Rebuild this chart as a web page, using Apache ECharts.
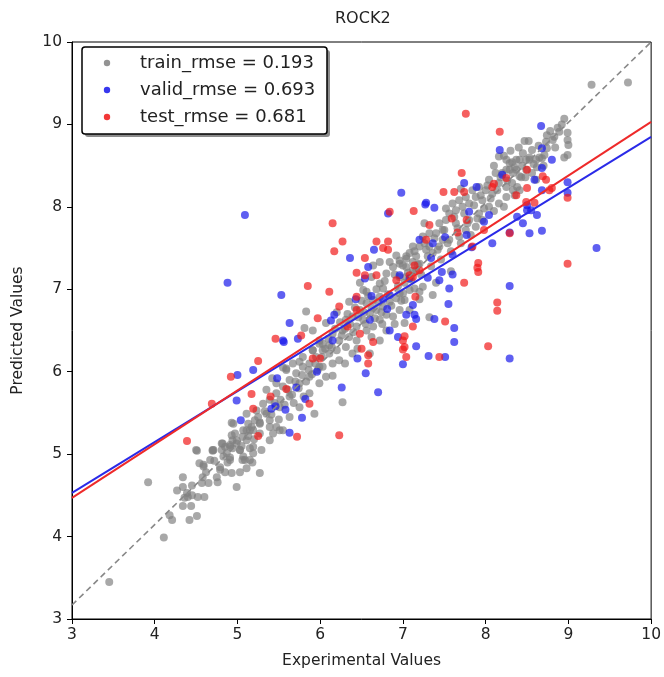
<!DOCTYPE html>
<html>
<head>
<meta charset="utf-8">
<script src="https://cdn.jsdelivr.net/npm/echarts@6/dist/echarts.min.js"></script>
<style>html,body{margin:0;padding:0;background:#fff}#c{width:664px;height:677px}</style>
</head>
<body>
<div id="c"></div>
<script>
var titleText = 'ROCK2';
var xName = 'Experimental Values';
var yName = 'Predicted Values';
var seriesNames = ['train_rmse = 0.193', 'valid_rmse = 0.693', 'test_rmse = 0.681'];
var tickMin = 3, tickMax = 10, tickStep = 1;

var trainPoints = [
[3.45,3.45],[4.11,3.99],[3.92,4.66],[4.18,4.26],[4.21,4.20],[4.42,4.20],[4.51,4.25],[4.34,4.37],[4.44,4.37],[4.27,4.56],[4.34,4.60],[4.39,4.53],[4.40,4.48],[4.36,4.47],[4.45,4.50],[4.52,4.48],[4.60,4.48],[4.34,4.72],[4.57,4.65],[4.65,4.65],[4.76,4.66],[4.59,4.85],[4.51,5.04],[4.70,5.04],[4.81,5.05],[4.85,5.09],[4.87,5.01],[4.91,5.11],[4.94,5.07],[4.99,5.13],[4.79,4.81],[4.85,4.78],[4.93,4.77],[5.03,4.78],[5.11,4.83],[5.18,4.90],[4.99,4.60],[5.27,4.77],[4.93,5.38],[5.15,5.07],[5.09,4.93],[5.17,5.33],[5.11,5.29],[5.21,5.41],[5.27,5.38],
[4.54,4.89],[4.70,5.05],[4.82,5.13],[4.94,5.17],[5.06,5.21],[5.15,5.29],[5.27,5.25],[5.03,5.05],[4.91,4.96],[4.79,4.84],[5.06,4.93],[5.19,5.01],[5.15,4.93],[4.58,4.72],[5.39,5.33],[5.51,5.29],[5.47,5.33],[6.27,5.63],
[4.50,5.05],[4.71,5.05],[4.59,4.87],[4.83,4.97],[4.91,5.09],[4.99,5.17],[5.07,5.29],[5.13,5.37],[4.95,5.37],[5.11,5.49],[5.23,5.53],[5.31,5.61],[5.39,5.66],[5.47,5.74],[5.55,5.82],[5.63,5.90],[5.71,5.98],[5.79,6.06],[5.87,6.10],[5.95,6.18],[6.03,6.26],[6.11,6.32],[5.35,5.78],[5.47,5.86],[5.59,6.02],[5.67,6.10],[5.79,6.18],[5.91,6.26],[5.99,6.34],[5.87,5.94],[5.75,5.86],[5.63,5.70],[5.51,5.57],[5.39,5.41],[5.27,5.37],[5.19,5.29],[5.11,5.17],[5.03,5.05],[4.91,4.93],[5.43,5.25],[5.55,5.29],[5.19,5.09],[5.07,4.97],[5.29,5.05],[5.39,5.17],[5.63,5.45],[5.75,5.57],[5.87,5.74],[5.99,5.86],[6.03,6.06],[6.07,5.94],[5.93,5.49],[4.93,5.23],[4.81,5.13],[4.67,4.93],[5.35,5.49],
[5.83,6.73],[5.81,6.53],[5.59,6.04],[5.75,6.12],[5.91,6.26],[6.03,6.34],[6.15,6.46],[6.27,6.50],[6.23,6.38],[6.11,6.22],[6.31,6.63],[6.39,6.67],[6.48,6.75],[6.56,6.83],[6.64,6.87],[6.72,6.91],[6.44,6.55],[6.35,6.42],[6.31,6.30],[6.52,6.63],[6.60,6.71],[6.68,6.75],[6.76,6.79],[6.84,6.85],[6.92,6.89],[7.00,6.95],[7.08,6.99],[6.72,6.63],[6.64,6.55],[6.56,6.50],[6.44,6.38],[6.39,6.22],[6.23,6.14],[6.15,6.10],[5.99,6.06],[6.72,7.07],[6.76,7.01],[6.80,7.19],[6.88,7.27],[6.96,7.31],[7.04,7.27],[7.12,7.33],[7.16,7.23],[7.04,7.37],[6.92,7.41],[6.84,7.33],[6.72,7.33],[6.64,7.29],[6.52,6.99],[6.80,6.69],[6.60,6.22],[6.72,6.38],[6.80,6.50],[6.88,6.67],[6.96,6.75],[6.56,6.97],[5.99,6.38],[6.07,6.59],[5.91,6.50],
[8.16,8.61],[8.29,8.53],[8.37,8.57],[8.45,8.65],[8.53,8.57],[8.49,8.45],[8.41,8.37],[8.33,8.41],[8.25,8.45],[8.12,8.41],[8.04,8.33],[8.16,8.29],[8.08,8.16],[8.00,8.20],[7.92,8.24],[7.96,8.08],[7.88,8.12],[7.80,8.04],[7.84,8.20],[7.76,8.12],[7.72,8.00],[7.64,7.96],[7.56,7.92],[7.60,8.04],[7.68,8.08],[7.52,7.84],[7.44,7.80],[7.48,7.72],[7.40,7.68],[7.32,7.68],[7.24,7.64],[7.20,7.52],[7.12,7.52],[7.08,7.44],[7.04,7.40],[6.96,7.35],[7.00,7.29],[7.16,7.40],[7.28,7.48],[7.44,7.52],[7.36,7.44],[7.56,7.60],[7.68,7.64],[7.76,7.72],[7.88,7.76],[7.96,7.84],[8.04,8.00],[8.16,8.04],[8.25,8.12],[8.33,8.20],[8.41,8.20],[7.92,7.92],[7.80,7.84],[7.64,7.80],[7.48,7.60],[7.32,7.52],[7.20,7.31],[7.12,7.23],[7.04,7.15],[6.96,7.15],
[7.20,6.97],[7.24,7.03],[7.14,7.01],[7.36,6.93],[7.32,6.66],[7.02,6.59],[7.08,6.75],[7.02,6.87],[6.96,6.95],
[8.95,9.07],[8.87,8.96],[8.89,8.91],[8.83,8.85],[8.81,8.81],[8.99,8.90],[8.99,8.81],[9.00,8.75],[8.99,8.63],[8.95,8.60],[8.74,8.87],[8.73,8.79],[8.74,8.71],[8.71,8.63],[8.68,8.59],[8.47,8.80],[8.56,8.69],[8.53,8.60],[8.61,8.57],[8.49,8.57],[8.41,8.57],[8.32,8.54],[8.25,8.57],[8.37,8.45],[8.29,8.45],[8.20,8.41],[8.43,8.36],[8.38,8.24],[8.32,8.29],[8.25,8.24],[8.35,8.14],[8.65,8.60],[8.62,8.48],[8.56,8.41],[8.61,8.33],[9.28,9.48],[9.72,9.51],
[5.25,5.45],[5.33,5.52],[5.41,5.48],[5.45,5.62],[5.52,5.66],[5.57,5.60],[5.61,5.78],[5.66,5.72],[5.70,5.88],[5.74,5.80],[5.78,5.96],[5.83,5.88],[5.86,6.02],[5.90,5.97],[5.94,6.10],[5.97,6.02],[5.42,5.92],[5.55,6.05],[5.68,5.62],[5.50,5.42],[5.80,5.70],
[6.02,6.18],[6.06,6.28],[6.10,6.40],[6.14,6.30],[6.18,6.52],[6.20,6.26],[6.24,6.60],[6.26,6.44],[6.30,6.52],[6.33,6.70],[6.36,6.58],[6.40,6.48],[6.42,6.78],[6.46,6.66],[6.50,6.86],[6.53,6.72],[6.55,6.58],[6.58,6.92],[6.62,6.78],[6.66,6.65],[6.68,7.00],[6.70,6.84],[6.74,6.72],[6.78,7.10],[6.82,6.94],[6.86,6.80],[6.90,7.18],[6.94,7.04],[6.98,6.86],[6.20,6.72],[6.35,6.85],[6.48,7.08],[6.62,7.15],[6.15,5.95],[6.30,6.10],[6.45,6.28],[6.62,6.42],[6.75,6.58],[6.90,6.58],
[7.02,7.08],[7.06,7.20],[7.10,7.12],[7.14,7.46],[7.18,7.30],[7.22,7.18],[7.26,7.56],[7.30,7.40],[7.34,7.28],[7.38,7.62],[7.42,7.48],[7.46,7.36],[7.50,7.72],[7.54,7.56],[7.58,7.46],[7.62,7.88],[7.66,7.74],[7.70,7.56],[7.74,7.92],[7.78,7.80],[7.82,7.66],[7.86,8.02],[7.90,7.86],[7.94,8.14],[7.98,7.98],[7.26,7.80],[7.52,7.98],[7.70,8.22],[7.20,6.88],[7.40,7.08],[7.58,7.22],
[8.02,8.26],[8.06,8.10],[8.10,8.50],[8.14,8.20],[8.18,8.36],[8.22,8.62],[8.26,8.32],[8.30,8.68],[8.35,8.48],[8.40,8.72],[8.44,8.50],[8.48,8.36],[8.52,8.80],[8.58,8.52],[8.64,8.74],[8.70,8.50],[8.78,8.92],[8.84,8.72],[8.92,9.00],[8.10,7.95],[8.22,8.00],
[4.62,4.78],[4.72,4.92],[4.88,4.90],[4.97,5.25],[5.05,5.10],[5.13,5.22],[5.20,5.18],[4.75,4.72],[4.45,4.62]
];

var validPoints = [
[8.67,8.98],[8.68,8.71],[8.80,8.57],[8.68,8.47],[8.59,8.33],[8.99,8.30],[8.99,8.17],[8.68,8.20],[8.20,8.39],[8.17,8.69],[8.50,8.02],[9.34,7.50],
[8.29,7.04],[7.56,7.01],[7.60,7.18],[7.47,7.21],[7.44,7.11],[7.55,6.82],[7.04,6.69],[7.14,6.69],[7.16,6.64],[7.38,6.64],[7.62,6.53],[7.62,6.36],[7.16,6.31],[7.31,6.19],[7.51,6.18],[8.29,6.16],[7.00,6.09],
[7.74,8.29],[7.89,8.24],[7.28,8.05],[7.38,7.99],[7.80,7.94],[8.04,7.90],[7.20,7.60],[7.36,7.56],[7.51,7.63],[7.77,7.66],[8.08,7.56],[8.38,7.88],[8.50,7.96],[8.62,7.90],[8.29,7.69],[7.83,7.51],[7.60,7.42],[7.34,7.38],[6.98,8.17],
[6.82,7.92],[7.27,8.03],[7.98,7.82],[8.53,7.68],[8.68,7.71],[8.45,7.80],[8.55,7.96],[6.65,7.48],[6.36,7.38],[6.58,7.27],[6.96,7.17],[7.30,7.14],[6.43,6.88],[6.76,6.88],[6.84,6.50],[6.60,6.63],[6.17,6.69],[6.15,6.38],
[6.54,7.13],[7.08,7.13],[6.62,6.92],[6.84,6.93],[6.81,6.76],[7.12,6.81],[6.13,6.62],[5.63,6.59],[5.55,6.38],[5.73,6.40],[6.94,6.42],[6.45,6.16],[5.53,6.93],
[5.56,6.36],[5.19,6.02],[5.00,5.96],[5.48,5.92],[5.71,5.81],[4.99,5.65],[5.41,5.55],[5.46,5.58],[5.58,5.54],[5.82,5.67],[5.78,5.44],[5.04,5.41],[5.63,5.26],[5.96,6.00],
[4.88,7.08],[5.09,7.90],[6.70,5.75],[6.26,5.81],[6.55,5.98]
];

var testPoints = [
[8.17,8.91],[8.50,8.45],[8.25,8.35],[8.73,8.33],[8.50,8.23],[8.77,8.20],[8.80,8.23],[8.37,8.14],[8.99,8.11],[8.59,8.05],[8.49,8.06],[7.76,9.13],
[7.91,7.32],[7.91,7.21],[8.99,7.31],[7.74,7.08],[8.14,6.84],[8.14,6.74],[7.51,6.61],[7.12,6.55],[7.02,6.43],[7.00,6.38],[7.00,6.27],[7.04,6.18],[8.03,6.31],[7.44,6.18],
[7.71,8.41],[7.49,8.18],[7.62,8.18],[7.74,8.18],[7.13,7.95],[8.08,8.24],[7.32,7.78],[7.59,7.86],[7.77,7.84],[7.66,7.69],[7.28,7.60],[7.98,7.72],[8.29,7.68],[7.90,7.26],[7.14,7.29],[7.12,7.15],
[6.15,7.80],[6.27,7.58],[6.17,7.46],[6.54,7.38],[6.68,7.58],[6.76,7.50],[6.82,7.58],[6.84,7.94],[8.10,8.28],[7.84,7.52],[7.02,6.30],[6.64,6.36],[6.48,6.46],[6.23,6.79],[6.44,6.91],[7.15,6.91],[7.08,7.17],[7.20,7.23],[8.69,8.37],
[5.85,7.04],[6.11,6.97],[6.82,7.48],[6.44,7.20],[6.54,7.17],[6.68,7.17],[6.92,7.11],[5.97,6.65],[6.44,6.75],[5.77,6.44],[6.33,6.55],[6.50,6.28],[5.91,6.16],[6.00,6.16],[6.58,6.20],[6.58,6.10],
[5.46,6.40],[5.25,6.13],[4.92,5.94],[5.17,5.73],[4.69,5.61],[5.40,5.70],[5.59,5.79],[5.19,5.55],[5.87,5.61],[5.25,5.22],[5.72,5.21],[6.23,5.23],[4.39,5.16]
];

var identityLine = [[3, 3.17], [10, 10]];
var validFit = [[3, 4.53], [10, 8.85]];
var testFit = [[3, 4.47], [10, 9.03]];

var colors = ['rgba(128,128,128,0.85)', 'rgba(20,20,235,0.85)', 'rgba(240,20,20,0.85)'];
var FONT = 'DejaVu Sans';

var chart = echarts.init(document.getElementById('c'), null, {renderer: 'canvas'});

function axis(name, gap, margin) {
  return {
    type: 'value', min: tickMin, max: tickMax, interval: tickStep,
    name: name, nameLocation: 'middle', nameGap: gap,
    nameTextStyle: {fontFamily: FONT, fontSize: 15.5, color: '#222'},
    axisLine: {show: true, onZero: false, lineStyle: {color: '#000', width: 1}},
    axisTick: {show: true, inside: false, length: 5, lineStyle: {color: '#000', width: 1}},
    axisLabel: {fontFamily: FONT, fontSize: 15.5, color: '#222', margin: margin},
    splitLine: {show: false}
  };
}

var legendBoxX = 82, legendBoxY = 47, legendW = 245, legendH = 87;
var graphics = [
  {type: 'rect', z: 100, shape: {x: legendBoxX + 3, y: legendBoxY + 3, width: legendW, height: legendH, r: 3}, style: {fill: 'rgba(0,0,0,0.45)'}},
  {type: 'rect', z: 101, shape: {x: legendBoxX, y: legendBoxY, width: legendW, height: legendH, r: 3}, style: {fill: '#fff', stroke: '#000', lineWidth: 1.5}}
];
seriesNames.forEach(function (n, i) {
  var cy = legendBoxY + 16 + i * 27;
  graphics.push({type: 'circle', z: 102, shape: {cx: legendBoxX + 25, cy: cy, r: 3.2}, style: {fill: colors[i]}});
  graphics.push({type: 'text', z: 102, x: legendBoxX + 58, y: cy, style: {text: n, fontFamily: FONT, fontSize: 18, fill: '#222', verticalAlign: 'middle'}});
});

function scatter(name, data, color) {
  return {name: name, type: 'scatter', data: data, symbolSize: 8, itemStyle: {color: color}, z: 2, silent: true};
}
function line(data, color, dash, width) {
  return {type: 'line', data: data, showSymbol: false, symbol: 'none', z: 5, silent: true,
    lineStyle: {color: color, width: width, type: dash ? [6, 4] : 'solid'}};
}

chart.setOption({
  animation: false,
  backgroundColor: '#fff',
  title: {text: titleText, left: 330, top: 6, textStyle: {fontFamily: FONT, fontSize: 16, fontWeight: 'normal', color: '#222'}},
  grid: {left: 72, right: 12, top: 42, bottom: 58, show: true, borderColor: '#000', borderWidth: 1, backgroundColor: 'transparent'},
  xAxis: axis(xName, 34, 8),
  yAxis: axis(yName, 46, 10),
  graphic: graphics,
  series: [
    scatter(seriesNames[0], trainPoints, colors[0]),
    scatter(seriesNames[1], validPoints, colors[1]),
    scatter(seriesNames[2], testPoints, colors[2]),
    line(identityLine, '#888', true, 1.6),
    line(validFit, '#2a2ae8', false, 2),
    line(testFit, '#ee2a2a', false, 2)
  ]
});
</script>
</body>
</html>
